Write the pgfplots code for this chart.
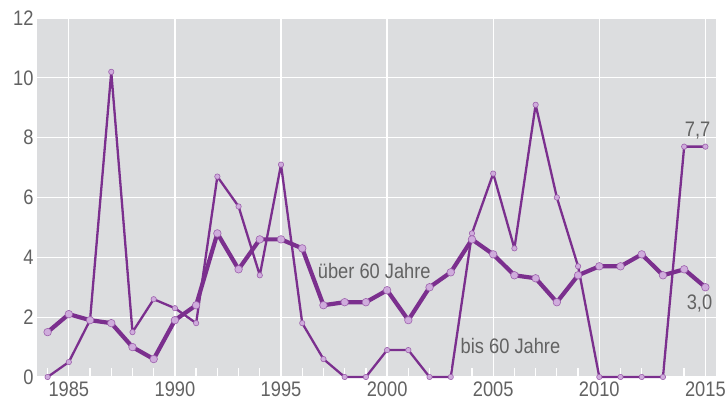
\documentclass[border=0pt]{standalone}
\usepackage{fontspec}
\setmainfont{Liberation Sans}[FakeStretch=0.87]
\usepackage{pgfplots}
\pgfplotsset{compat=1.18}
\definecolor{bg}{HTML}{DCDDDF}
\definecolor{lila}{HTML}{7B2F8E}
\definecolor{ballc}{HTML}{CFACDC}
\definecolor{txt}{HTML}{626262}
\newcommand{\lblfont}{\fontsize{21bp}{24bp}\selectfont}

\begin{document}
\begin{tikzpicture}
\begin{axis}[
    name=ax,
    scale only axis,
    width=679bp, height=359bp,
    xmin=1983.5, xmax=2015.5,
    ymin=0, ymax=12,
    axis line style={draw=none},
    axis background/.style={fill=bg},
    clip=false,
    grid=major,
    major grid style={white, line width=1.3bp},
    xtick={1985,1990,...,2015},
    minor xtick={1984,...,2015},
    ytick={0,2,...,12},
    tick pos=left,
    tick align=inside,
    major tick length=0pt,
    minor tick length=9bp,
    minor tick style={white, line width=1.3bp},
    ytick style={draw=none},
    /pgf/number format/assume math mode=true,
    /pgf/number format/1000 sep={},
    tick label style={font=\lblfont, text=txt},
    xticklabel style={yshift=-1bp},
]
% bis 60 Jahre
\addplot[lila, line width=2.3bp, line join=round, mark=*, mark size=2.7bp,
    mark options={fill=ballc, draw=lila!60!ballc, line width=0.6bp}] coordinates {
(1984,0) (1985,0.5) (1986,1.9) (1987,10.2) (1988,1.5) (1989,2.6)
(1990,2.3) (1991,1.8) (1992,6.7) (1993,5.7) (1994,3.4) (1995,7.1)
(1996,1.8) (1997,0.6) (1998,0) (1999,0) (2000,0.9) (2001,0.9)
(2002,0) (2003,0) (2004,4.8) (2005,6.8) (2006,4.3) (2007,9.1)
(2008,6.0) (2009,3.7) (2010,0) (2011,0) (2012,0) (2013,0)
(2014,7.7) (2015,7.7)
};
% ueber 60 Jahre
\addplot[lila, line width=4.2bp, line join=round, mark=*, mark size=3.8bp,
    mark options={fill=ballc, draw=lila!60!ballc, line width=0.6bp}] coordinates {
(1984,1.5) (1985,2.1) (1986,1.9) (1987,1.8) (1988,1.0) (1989,0.6)
(1990,1.9) (1991,2.4) (1992,4.8) (1993,3.6) (1994,4.6) (1995,4.6)
(1996,4.3) (1997,2.4) (1998,2.5) (1999,2.5) (2000,2.9) (2001,1.9)
(2002,3.0) (2003,3.5) (2004,4.6) (2005,4.1) (2006,3.4) (2007,3.3)
(2008,2.5) (2009,3.4) (2010,3.7) (2011,3.7) (2012,4.1) (2013,3.4)
(2014,3.6) (2015,3.0)
};
\node[anchor=base west, inner sep=0pt, font=\lblfont, text=txt] at (axis cs:1996.73,3.28) {über 60 Jahre};
\node[anchor=base west, inner sep=0pt, font=\lblfont, text=txt] at (axis cs:2003.46,0.80) {bis 60 Jahre};
\node[anchor=east, inner sep=0pt, font=\lblfont, text=txt] at (axis cs:2015.24,8.22) {7,7};
\node[anchor=east, inner sep=0pt, font=\lblfont, text=txt] at (axis cs:2015.33,2.47) {3,0};
\end{axis}
\pgfresetboundingbox
\path ([xshift=-37bp,yshift=-28bp]ax.south west) rectangle ([xshift=10bp,yshift=18bp]ax.north east);
\end{tikzpicture}
\end{document}
